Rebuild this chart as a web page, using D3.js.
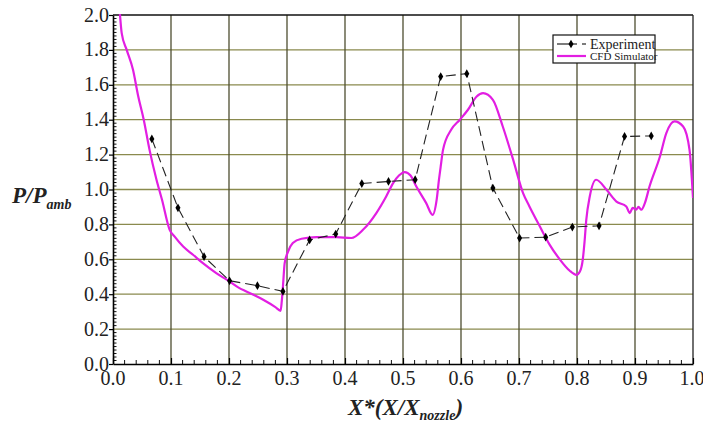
<!DOCTYPE html>
<html>
<head>
<meta charset="utf-8">
<script src="https://cdn.jsdelivr.net/npm/d3@7"></script>
</head>
<body style="margin:0;background:#fff">
<svg id="chart" width="703" height="425" style="display:block"></svg>
<script>
// Measured pressure ratio along the nozzle
const expX = [0.067, 0.112, 0.157, 0.201, 0.249, 0.293, 0.339, 0.384, 0.429, 0.475, 0.521, 0.565, 0.610, 0.655, 0.701, 0.746, 0.792, 0.838, 0.882, 0.928];
const expY = [1.29, 0.895, 0.615, 0.477, 0.449, 0.416, 0.711, 0.745, 1.034, 1.046, 1.056, 1.647, 1.664, 1.008, 0.722, 0.727, 0.785, 0.792, 1.304, 1.307];

// CFD simulation profile
const cfdX = [0.0116, 0.015, 0.0236, 0.0345, 0.043, 0.053, 0.063, 0.075, 0.0845, 0.0977, 0.106, 0.121, 0.138, 0.155, 0.178, 0.201, 0.218, 0.230, 0.259, 0.280, 0.289,
  0.291, 0.293, 0.296, 0.302, 0.310, 0.325, 0.351, 0.385, 0.411, 0.431, 0.454, 0.471, 0.483, 0.493, 0.503, 0.513, 0.523, 0.540, 0.551,
  0.558, 0.562, 0.565, 0.569, 0.583, 0.598, 0.612, 0.627, 0.638, 0.655, 0.672, 0.690, 0.707, 0.718, 0.736, 0.753, 0.770, 0.787, 0.799,
  0.805, 0.810, 0.813, 0.816, 0.822, 0.833, 0.851, 0.868, 0.885, 0.891, 0.896, 0.902, 0.906, 0.911, 0.917, 0.925, 0.943, 0.954, 0.968, 0.983, 0.994, 1.0];
const cfdY = [2.02, 1.896, 1.80, 1.686, 1.542, 1.40, 1.227, 1.056, 0.941, 0.769, 0.731, 0.673, 0.626, 0.578, 0.521, 0.473, 0.435, 0.416, 0.368, 0.326, 0.305,
  0.36, 0.444, 0.578, 0.645, 0.693, 0.718, 0.727, 0.727, 0.722, 0.769, 0.865, 0.960, 1.037, 1.080, 1.100, 1.080, 1.017, 0.922, 0.855,
  0.941, 1.056, 1.132, 1.227, 1.342, 1.40, 1.457, 1.533, 1.552, 1.514, 1.361, 1.170, 0.979, 0.903, 0.788, 0.683, 0.601, 0.536, 0.511,
  0.530, 0.600, 0.700, 0.826, 0.960, 1.056, 0.998, 0.931, 0.903, 0.865, 0.895, 0.885, 0.900, 0.884, 0.922, 1.017, 1.189, 1.323, 1.390, 1.361, 1.227, 0.951];

const xTicks = [0.0, 0.1, 0.2, 0.3, 0.4, 0.5, 0.6, 0.7, 0.8, 0.9, 1.0];
const yTicks = [0.0, 0.2, 0.4, 0.6, 0.8, 1.0, 1.2, 1.4, 1.6, 1.8, 2.0];

const FONT = '"Liberation Serif"';
const TXT = "#222";

const svg = d3.select("#chart");
const m = { left: 113, right: 10, top: 15, bottom: 61 };
const W = 703, H = 425;
const x = d3.scaleLinear().domain([0, 1]).range([m.left, W - m.right]);
const y = d3.scaleLinear().domain([0, 2]).range([H - m.bottom, m.top]);

svg.append("defs").append("clipPath").attr("id", "plot-clip")
  .append("rect").attr("x", m.left).attr("y", m.top - 1)
  .attr("width", x(1) - m.left).attr("height", y(0) - m.top + 1);

// grid
svg.append("g").selectAll("line").data(yTicks.slice(1, -1)).join("line")
  .attr("x1", x(0)).attr("x2", x(1))
  .attr("y1", d => y(d)).attr("y2", d => y(d))
  .attr("stroke", "#8a8a4e").attr("stroke-width", 1.3);
svg.append("g").selectAll("line").data(xTicks.slice(1, -1)).join("line")
  .attr("x1", d => x(d)).attr("x2", d => x(d))
  .attr("y1", y(0)).attr("y2", y(2))
  .attr("stroke", "#4e4e30").attr("stroke-width", 1.3);

// frame top / right
svg.append("line").attr("x1", x(0)).attr("x2", x(1)).attr("y1", y(2)).attr("y2", y(2)).attr("stroke", "#111").attr("stroke-width", 1.3);
svg.append("line").attr("x1", x(1)).attr("x2", x(1)).attr("y1", y(2)).attr("y2", y(0)).attr("stroke", "#222").attr("stroke-width", 1.3);

// minor ticks
const xMinor = d3.range(0, 50).map(i => i * 0.02).filter(v => Math.abs(v * 10 - Math.round(v * 10)) > 1e-6);
const yMinor = d3.range(0, 100).map(i => i * 0.02).filter(v => Math.abs(v * 5 - Math.round(v * 5)) > 1e-6);
svg.append("g").selectAll("line").data(xMinor).join("line")
  .attr("x1", d => x(d)).attr("x2", d => x(d)).attr("y1", y(0)).attr("y2", y(0) - 4)
  .attr("stroke", "#111").attr("stroke-width", 1);
svg.append("g").selectAll("line").data(yMinor).join("line")
  .attr("x1", x(0)).attr("x2", x(0) + 3.5).attr("y1", d => y(d)).attr("y2", d => y(d))
  .attr("stroke", "#111").attr("stroke-width", 1);

// axes (labels drawn as plain text elements)
const xAxis = svg.append("g").attr("transform", `translate(0,${y(0)})`)
  .call(d3.axisBottom(x).tickValues(xTicks).tickFormat("").tickSizeInner(-6).tickSizeOuter(0));
const yAxis = svg.append("g").attr("transform", `translate(${x(0)},0)`)
  .call(d3.axisLeft(y).tickValues(yTicks).tickFormat("").tickSize(4).tickSizeOuter(0));
[xAxis, yAxis].forEach(g => {
  g.select(".domain").attr("stroke", "#000").attr("stroke-width", 1.6);
  g.selectAll(".tick line").attr("stroke", "#000").attr("stroke-width", 1.2);
  g.selectAll(".tick text").remove();
});
const fmt = d3.format(".1f");
svg.append("g").selectAll("text").data(xTicks).join("text")
  .attr("x", d => x(d) - (d === 1 ? 1 : 0)).attr("y", y(0) + 21)
  .attr("text-anchor", "middle")
  .style("font-family", FONT).style("font-size", "20px").attr("fill", TXT)
  .text(d => fmt(d));
svg.append("g").selectAll("text").data(yTicks).join("text")
  .attr("x", x(0) - 4).attr("y", d => y(d) + 6.5)
  .attr("text-anchor", "end")
  .style("font-family", FONT).style("font-size", "20px").attr("fill", TXT)
  .text(d => fmt(d));

// CFD curve
const plot = svg.append("g").attr("clip-path", "url(#plot-clip)");
const cfd = cfdX.map((v, i) => [v, cfdY[i]]);
plot.append("path").datum(cfd)
  .attr("d", d3.line().x(d => x(d[0])).y(d => y(d[1])).curve(d3.curveMonotoneX))
  .attr("fill", "none").attr("stroke", "#e21ee2").attr("stroke-width", 2.2);

// Experiment
const exp = expX.map((v, i) => [v, expY[i]]);
plot.append("path").datum(exp)
  .attr("d", d3.line().x(d => x(d[0])).y(d => y(d[1])))
  .attr("fill", "none").attr("stroke", "#222").attr("stroke-width", 1.1)
  .attr("stroke-dasharray", "10,5");
const diamond = d3.symbol().type(d3.symbolDiamond).size(22);
plot.append("g").selectAll("path").data(exp).join("path")
  .attr("d", diamond).attr("transform", d => `translate(${x(d[0])},${y(d[1])})`)
  .attr("fill", "#000");

// legend
const lg = svg.append("g").attr("transform", "translate(553,35)");
lg.append("rect").attr("width", 102).attr("height", 28).attr("fill", "#fff").attr("stroke", "#111").attr("stroke-width", 1.2);
lg.append("line").attr("x1", 4).attr("x2", 24).attr("y1", 9).attr("y2", 9).attr("stroke", "#111").attr("stroke-width", 1.1);
lg.append("line").attr("x1", 29).attr("x2", 33).attr("y1", 9).attr("y2", 9).attr("stroke", "#111").attr("stroke-width", 1.1);
lg.append("path").attr("d", diamond).attr("transform", "translate(18,9)").attr("fill", "#000");
lg.append("text").attr("x", 37).attr("y", 13.5).style("font-family", FONT).style("font-size", "14px").attr("fill", TXT).text("Experiment");
lg.append("line").attr("x1", 4).attr("x2", 33).attr("y1", 21).attr("y2", 21).attr("stroke", "#e21ee2").attr("stroke-width", 2.2);
lg.append("text").attr("x", 37).attr("y", 24.5).style("font-family", FONT).style("font-size", "11px").attr("fill", TXT).text("CFD Simulator");

// axis titles
const yl = svg.append("text").attr("x", 12).attr("y", 203)
  .style("font-family", FONT).style("font-size", "23px").style("font-weight", "bold").style("font-style", "italic").attr("fill", TXT);
yl.append("tspan").text("P/P");
yl.append("tspan").attr("dy", 6).style("font-size", "14px").text("amb");

const xl = svg.append("text").attr("x", 348).attr("y", 415)
  .style("font-family", FONT).style("font-size", "23px").style("font-weight", "bold").style("font-style", "italic").attr("fill", TXT);
xl.append("tspan").text("X*(X/X");
xl.append("tspan").attr("dy", 5).style("font-size", "14px").text("nozzle");
xl.append("tspan").attr("dy", -5).text(")");
</script>
</body>
</html>
